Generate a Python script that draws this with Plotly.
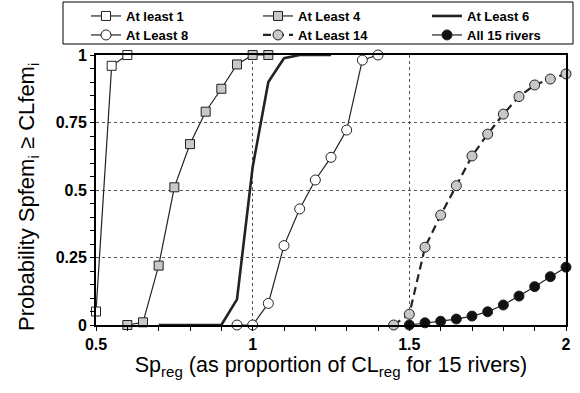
import plotly.graph_objects as go

# ---- data ----
x_l1 = [0.5, 0.55, 0.6]
y_l1 = [0.05, 0.96, 1.0]

x_l4 = [0.6, 0.65, 0.7, 0.75, 0.8, 0.85, 0.9, 0.95, 1.0, 1.05]
y_l4 = [0.0, 0.01, 0.22, 0.51, 0.67, 0.79, 0.875, 0.965, 1.0, 1.0]

x_l6 = [0.7, 0.75, 0.8, 0.85, 0.9, 0.95, 1.0, 1.05, 1.1, 1.15, 1.2, 1.25]
y_l6 = [0.0, 0.0, 0.0, 0.0, 0.0, 0.095, 0.585, 0.90, 0.988, 1.0, 1.0, 1.0]

x_l8 = [0.95, 1.0, 1.05, 1.1, 1.15, 1.2, 1.25, 1.3, 1.35, 1.4]
y_l8 = [0.0, 0.0, 0.08, 0.294, 0.43, 0.537, 0.621, 0.722, 0.981, 1.0]

x_l14 = [1.45, 1.5, 1.55, 1.6, 1.65, 1.7, 1.75, 1.8, 1.85, 1.9, 1.95, 2.0]
y_l14 = [0.0, 0.04, 0.288, 0.407, 0.516, 0.626, 0.707, 0.781, 0.846, 0.889, 0.911, 0.93]

x_all = [1.5, 1.55, 1.6, 1.65, 1.7, 1.75, 1.8, 1.85, 1.9, 1.95, 2.0]
y_all = [0.0, 0.008, 0.014, 0.022, 0.033, 0.049, 0.074, 0.107, 0.142, 0.179, 0.214]

x_ticks = [0.5, 1, 1.5, 2]
x_tick_labels = ["0.5", "1", "1.5", "2"]
y_ticks = [0, 0.25, 0.5, 0.75, 1]
y_tick_labels = ["0", "0.25", "0.5", "0.75", "1"]

LINE = "#222222"
GREY = "#c8c8c8"

W, H = 580, 393
L, R, T, B = 96, 14, 55, 68
PW, PH = W - L - R, H - T - B

fig = go.Figure()

def add(x, y, name, lw, legend, symbol=None, fill=None, dash="solid", msize=9):
    mode = "lines+markers" if symbol else "lines"
    marker = dict(symbol=symbol, size=msize, color=fill,
                  line=dict(color=LINE, width=1)) if symbol else None
    fig.add_trace(go.Scatter(
        x=x, y=y, name=name, mode=mode, legend=legend,
        line=dict(color=LINE, width=lw, dash=dash),
        marker=marker, cliponaxis=False,
    ))

add(x_l1, y_l1, "At least 1", 1.2, "legend", "square", "white")
add(x_l4, y_l4, "At Least 4", 1.2, "legend2", "square", GREY)
add(x_l6, y_l6, "At Least 6", 2.6, "legend3")
add(x_l8, y_l8, "At Least 8", 1.2, "legend4", "circle", "white", msize=10)
add(x_l14, y_l14, "At Least 14", 2.2, "legend5", "circle", GREY, dash="8px,5px", msize=10)
add(x_all, y_all, "All 15 rivers", 1.2, "legend6", "circle", "#111111", msize=10)

tickfont = dict(family="Liberation Sans", size=16, color="black", weight="bold")

legfont = dict(family="Liberation Sans", size=13, color="black", weight="bold")

def leg(px, py):
    return dict(orientation="v", xref="container", yref="container",
                x=px / W, y=1 - py / H, xanchor="left", yanchor="top",
                bgcolor="rgba(0,0,0,0)", borderwidth=0, font=legfont,
                itemwidth=30, tracegroupgap=0)

# legend frame (paper coordinates computed from pixel box)
fig.add_shape(type="rect", xref="paper", yref="paper",
              x0=(63 - L) / PW, x1=(573 - L) / PW,
              y0=(H - B - 44) / PH, y1=(H - B - 2) / PH,
              line=dict(color="black", width=1), fillcolor="rgba(0,0,0,0)")

# y-axis title as rotated annotation
fig.add_annotation(
    text="Probability Spfem<sub>i</sub> ≥ CLfem<sub>i</sub>",
    xref="paper", yref="paper", x=(28 - L) / PW, y=(H - B - 197) / PH,
    xanchor="center", yanchor="middle", textangle=-90, showarrow=False,
    font=dict(family="Liberation Sans", size=22, color="black"),
)

fig.update_layout(
    width=W, height=H,
    margin=dict(l=L, r=R, t=T, b=B, autoexpand=False),
    paper_bgcolor="white", plot_bgcolor="white",
    font=dict(family="Liberation Sans", color="black"),
    showlegend=True,
    legend=leg(86, 1), legend2=leg(258, 1), legend3=leg(427, 1),
    legend4=leg(86, 20), legend5=leg(258, 20), legend6=leg(427, 20),
    xaxis=dict(
        range=[0.5, 2], tickvals=x_ticks, ticktext=x_tick_labels,
        tickfont=tickfont, showline=True, linecolor="black", linewidth=2,
        mirror=True, ticks="outside", ticklen=4, tickwidth=1, tickcolor="black",
        minor=dict(dtick=0.1, ticks="outside", ticklen=4, tickcolor="black", showgrid=False),
        showgrid=True, gridcolor="#555555", griddash="3px,3px", gridwidth=1,
        zeroline=False,
        title=dict(text="Sp<sub>reg</sub> (as proportion of CL<sub>reg</sub> for 15 rivers)",
                   font=dict(family="Liberation Sans", size=21.5, color="black"), standoff=4),
    ),
    yaxis=dict(
        range=[0, 1], tickvals=y_ticks, ticktext=y_tick_labels,
        tickfont=tickfont, showline=True, linecolor="black", linewidth=2,
        mirror=True, ticks="outside", ticklen=4, tickwidth=1, tickcolor="black",
        minor=dict(dtick=0.05, ticks="outside", ticklen=4, tickcolor="black", showgrid=False),
        showgrid=True, gridcolor="#555555", griddash="3px,3px", gridwidth=1,
        zeroline=False,
    ),
)

fig.write_html("out.html")
